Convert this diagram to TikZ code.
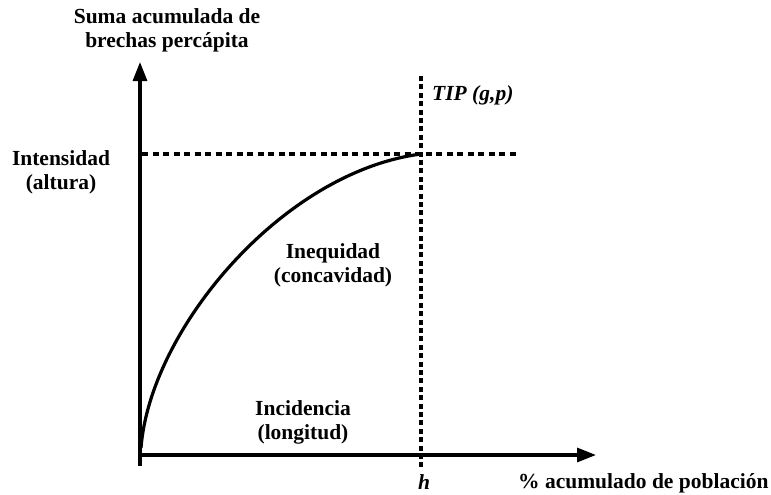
\documentclass[tikz,border=0pt]{standalone}
\usepackage{fontspec}
\setmainfont{Liberation Serif}
\usetikzlibrary{arrows.meta}
\begin{document}
\begin{tikzpicture}[x=1pt,y=-1pt,
  lbl/.style={font=\fontsize{21.5}{24}\selectfont\bfseries, align=center, inner sep=0pt},
  axis/.style={line width=3.2pt, -{Triangle[length=19pt,width=14pt]}},
  hdash/.style={line width=3.2pt, dash pattern=on 6pt off 4.5pt},
  vdash/.style={line width=3.2pt, dash pattern=on 5pt off 3.4pt},
  curve/.style={line width=3.2pt}]
\useasboundingbox (0,0) rectangle (771,495);
% axes
\coordinate (ybot) at (140,466);
\coordinate (ytop) at (140,62);
\coordinate (xl) at (138,455);
\coordinate (xr) at (596,455);
\draw[axis] (ybot) -- (ytop);
\draw[axis] (xl) -- (xr);
% dashed lines
\coordinate (hl) at (142,154);
\coordinate (hr) at (519,154);
\coordinate (vt) at (421,76);
\coordinate (vb) at (421,467);
\draw[hdash] (hl) -- (hr);
\draw[vdash] (vt) -- (vb);
% curve
\coordinate (c0) at (141,448);
\coordinate (c1) at (421,154);
\draw[curve] (c0) .. controls (150,330) and (282,172) .. (c1);
% labels
\node[lbl] (ttl) at (167,30) {Suma acumulada de\\brechas percápita};
\node[lbl] (int) at (61,172) {Intensidad\\(altura)};
\node[lbl, anchor=west] (tip) at (432,95) {\itshape TIP (g,p)};
\node[lbl] (ineq) at (333,265) {Inequidad\\(concavidad)};
\node[lbl] (inc) at (303,422) {Incidencia\\(longitud)};
\node[lbl] (h) at (424,482) {\itshape h};
\node[lbl, anchor=west] (pob) at (518,483) {\% acumulado de población};
\end{tikzpicture}
\end{document}
